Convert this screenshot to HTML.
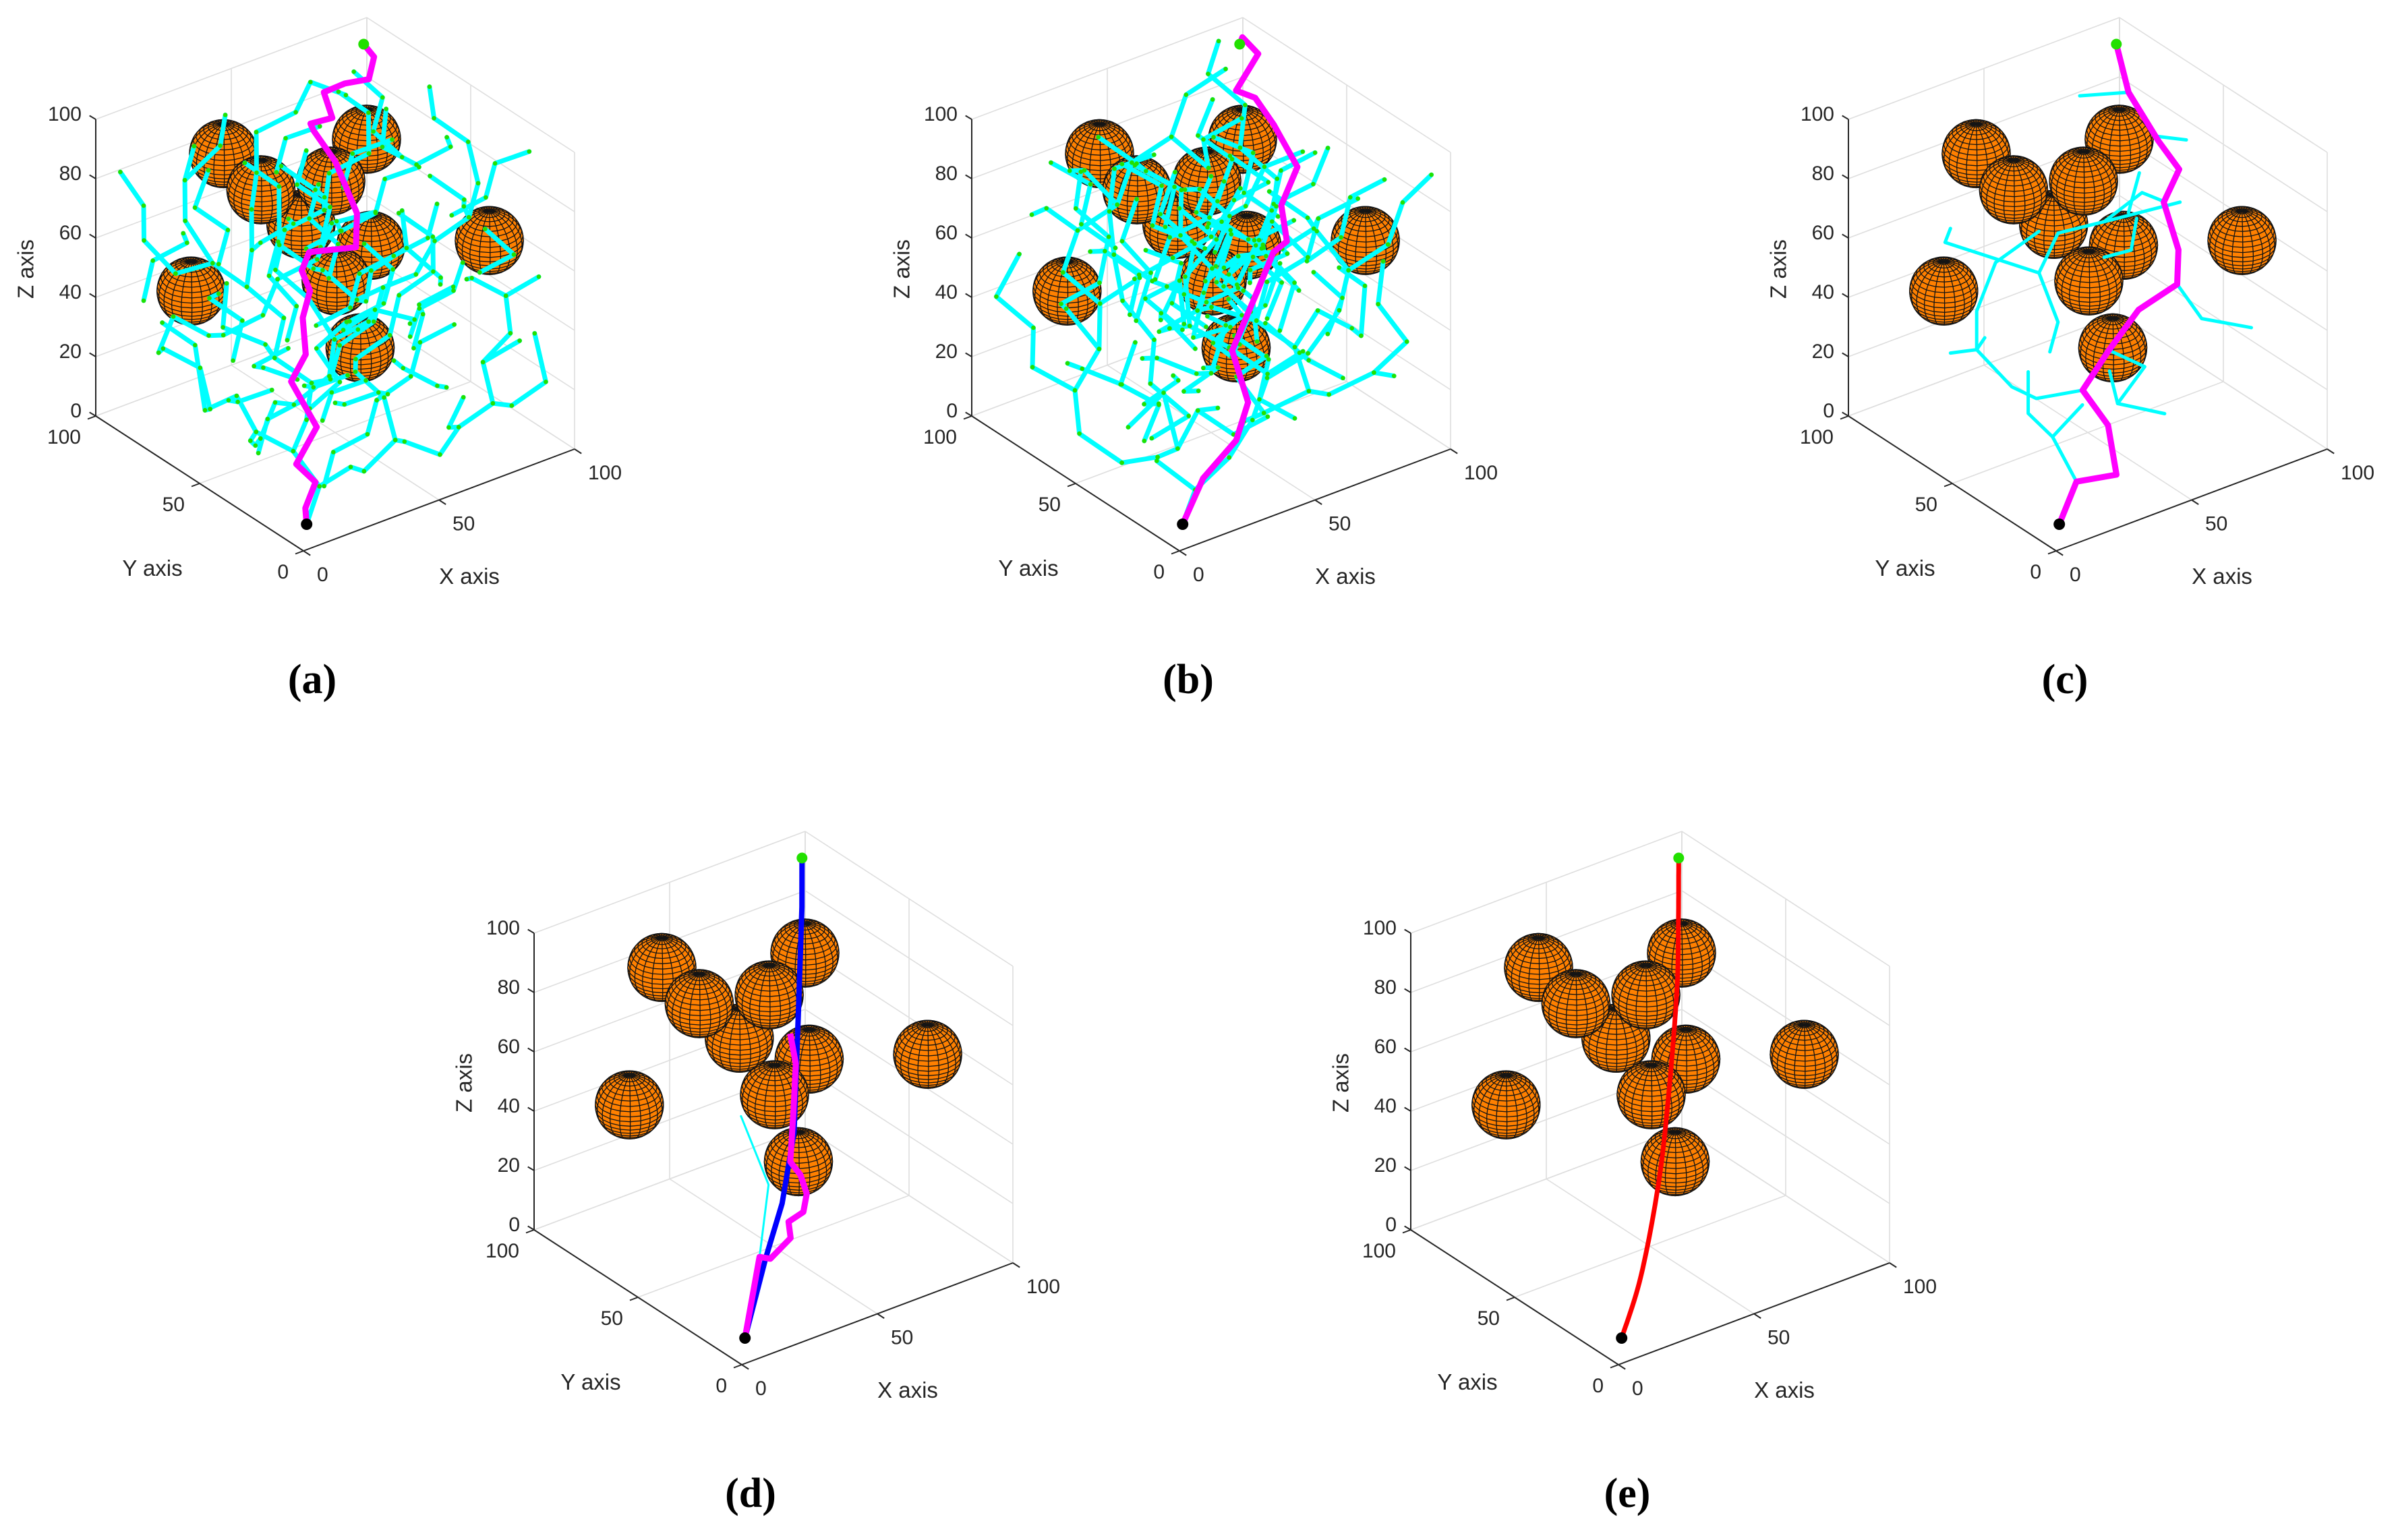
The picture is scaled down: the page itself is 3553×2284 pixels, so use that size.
<!DOCTYPE html>
<html>
<head>
<meta charset="utf-8">
<style>
html,body{margin:0;padding:0;background:#fff;}
svg{display:block;}
text{font-family:"Liberation Sans",Arial,sans-serif;}
</style>
</head>
<body>
<svg id="fig" xmlns="http://www.w3.org/2000/svg" width="3553" height="2284" viewBox="0 0 3553 2284">
<rect x="0" y="0" width="3553" height="2284" fill="#ffffff"/>
</svg>
<script>
// ---------- data ----------
const sphereX = [41, 41, 55, 53, 70, 67, 90, 16, 45, 50];
const sphereY = [92, 74, 73, 56, 61, 55, 28, 75, 43, 38];
const sphereZ = [78, 74, 58, 81, 87, 55, 61, 48, 56, 34];
const sphereR = 10;
const xTicks = [0, 50, 100];
const yTicks = [0, 50, 100];
const zTicks = [0, 20, 40, 60, 80, 100];
const startPt = [5, 5, 5];
const goalPt = [95, 95, 95];
const panelLabels = ['(a)', '(b)', '(c)', '(d)', '(e)'];

const treeA = [
 [[5,5,5],[12,8,14],[10,18,22],[18,22,28]],
 [[12,8,14],[22,6,18],[30,10,12]],
 [[10,18,22],[4,28,26],[8,36,18]],
 [[30,10,12],[40,8,20],[48,14,14],[58,10,8]],
 [[40,8,20],[42,16,30],[36,22,38]],
 [[58,10,8],[68,14,12],[76,8,20],[86,12,14]],
 [[76,8,20],[80,18,28],[92,16,32]],
 [[68,14,12],[72,24,6],[82,30,10]],
 [[86,12,14],[94,6,22],[96,14,34]],
 [[80,18,28],[84,10,40],[90,20,46],[96,12,54]],
 [[18,22,28],[26,30,34],[20,40,40],[28,46,48]],
 [[26,30,34],[36,34,30],[44,40,36]],
 [[4,28,26],[6,40,32],[2,50,24],[10,58,18]],
 [[8,36,18],[16,44,10],[24,52,6]],
 [[24,52,6],[34,58,12],[44,62,6],[54,58,14]],
 [[54,58,14],[62,66,20],[70,60,26]],
 [[44,40,36],[52,34,44],[60,40,50],[66,32,56]],
 [[66,32,56],[76,36,62],[84,30,70],[92,36,76]],
 [[60,40,50],[58,50,42],[66,56,36],[74,64,40]],
 [[74,64,40],[84,60,46],[90,70,52]],
 [[70,60,26],[80,70,22],[90,64,18],[96,74,10]],
 [[28,46,48],[22,56,56],[14,62,64],[8,72,58]],
 [[22,56,56],[30,64,62],[36,72,70]],
 [[8,72,58],[4,82,66],[10,90,72],[6,96,82]],
 [[36,72,70],[44,80,76],[50,88,84]],
 [[14,62,64],[10,70,76],[16,78,84],[24,84,90]],
 [[10,58,18],[14,68,26],[8,78,30],[14,88,22]],
 [[14,88,22],[24,94,28],[34,90,20],[44,96,14]],
 [[44,96,14],[54,90,20],[64,96,26]],
 [[64,96,26],[74,90,32],[84,96,38],[94,88,42]],
 [[62,66,20],[60,76,30],[54,84,38],[62,90,46]],
 [[62,90,46],[72,84,52],[80,92,58],[90,86,64]],
 [[90,86,64],[96,94,72],[88,98,80]],
 [[50,88,84],[60,82,90],[70,88,94],[80,84,88]],
 [[92,36,76],[96,46,84],[88,52,92],[94,62,96]],
 [[84,30,70],[76,22,80],[70,14,88],[62,20,96]],
 [[90,20,46],[82,26,52],[74,18,58]],
 [[20,40,40],[12,34,50],[4,44,54],[10,50,64]],
 [[36,22,38],[30,14,48],[38,8,56],[46,14,64]],
 [[46,14,64],[54,8,72],[60,16,78],[52,22,86]],
 [[2,50,24],[6,60,40],[0,68,46]],
 [[84,60,46],[92,54,36],[98,62,28]],
 [[80,70,22],[76,80,12],[86,86,6]],
 [[16,78,84],[26,74,94],[34,82,98]],
 [[58,50,42],[50,56,52],[42,50,58],[34,56,66]],
 [[34,56,66],[40,64,80],[32,70,88]],
 [[72,84,52],[66,76,62],[58,70,70],[50,76,78]],
 [[30,64,62],[24,52,72],[30,44,80],[22,36,88]],
 [[50,30,20],[58,24,28],[66,30,34],[74,24,40]],
 [[50,30,20],[42,24,14],[34,30,8],[26,24,2]],
 [[30,30,20],[38,36,24],[46,30,28]],
 [[20,20,60],[28,14,66],[36,20,72],[44,14,78]],
 [[44,14,78],[52,8,84],[60,14,90]],
 [[10,10,40],[18,6,48],[14,12,58],[22,8,66]],
 [[60,70,50],[68,76,58],[62,84,64],[70,90,70]],
 [[40,60,30],[48,66,36],[44,74,44],[52,80,50]],
 [[80,50,80],[88,44,86],[82,38,94]],
 [[80,50,80],[72,56,86],[78,62,94]],
 [[30,80,50],[38,86,56],[32,94,62],[40,98,70]],
 [[70,40,30],[78,46,34],[86,40,40],[94,46,44]],
 [[20,60,30],[28,66,38],[22,74,44],[30,80,40]],
 [[56,20,40],[64,26,46],[58,20,54],[66,14,60]],
 [[40,40,60],[48,46,66],[42,52,74],[50,58,80]],
 [[90,70,70],[84,76,78],[92,82,84],[86,88,92]],
 [[10,90,40],[18,96,48],[26,90,54],[20,84,62]],
 [[50,50,10],[58,56,4],[66,50,8],[74,56,2]],
 [[34,44,24],[42,50,18],[50,44,22]],
 [[70,20,80],[78,14,86],[86,20,92],[94,14,96]],
 [[24,30,80],[32,24,86],[26,18,94]],
 [[60,60,60],[68,54,66],[76,60,72],[84,54,76]],
 [[48,70,20],[40,76,14],[48,82,8],[56,76,4]],
 [[88,30,50],[96,24,56],[90,30,64]],
 [[14,40,10],[22,46,16],[30,40,22]],
 [[36,60,88],[44,66,94],[52,60,98]],
 [[64,40,24],[72,46,16],[80,40,10],[88,46,4]],
 [[40,30,50],[48,24,56],[56,30,62],[50,36,70]],
 [[26,70,10],[34,76,4],[42,70,8]],
 [[76,80,60],[84,86,66],[94,80,70]]
];

const treeB = [
 [[5,5,5],[15,12,10],[26,10,18],[36,16,24]],
 [[15,12,10],[10,24,16],[18,34,10],[14,46,4]],
 [[26,10,18],[30,4,32],[40,10,40],[52,6,46]],
 [[36,16,24],[48,22,20],[60,16,26],[72,22,18]],
 [[72,22,18],[84,16,24],[96,22,16]],
 [[60,16,26],[64,28,34],[56,36,42],[66,44,48]],
 [[66,44,48],[78,40,54],[88,48,60],[98,42,66]],
 [[56,36,42],[44,42,48],[36,34,56],[26,40,62]],
 [[26,40,62],[16,34,70],[8,42,78],[14,52,86]],
 [[44,42,48],[48,54,40],[40,62,32],[50,70,26]],
 [[50,70,26],[62,76,20],[72,70,12],[82,78,6]],
 [[18,34,10],[30,40,6],[42,46,12],[54,52,6]],
 [[14,46,4],[6,56,12],[12,66,20],[4,76,26]],
 [[4,76,26],[12,86,32],[6,96,40],[16,98,50]],
 [[12,66,20],[24,70,28],[32,80,36],[26,90,44]],
 [[26,90,44],[36,96,52],[46,90,60],[56,96,68]],
 [[56,96,68],[66,90,76],[76,96,84],[86,90,92]],
 [[52,6,46],[62,4,58],[70,10,66],[80,4,74]],
 [[80,4,74],[90,10,82],[96,4,92]],
 [[70,10,66],[66,20,76],[58,14,86],[50,22,94]],
 [[88,48,60],[94,58,50],[90,68,40],[98,76,32]],
 [[98,76,32],[92,86,24],[98,94,14]],
 [[78,40,54],[74,52,62],[82,60,70],[76,70,78]],
 [[76,70,78],[84,78,86],[78,88,94],[88,96,98]],
 [[36,34,56],[40,24,64],[32,18,74],[40,12,84]],
 [[40,12,84],[30,6,92],[20,12,98]],
 [[14,52,86],[22,60,94],[32,54,98]],
 [[8,42,78],[2,30,70],[6,20,60],[0,14,50]],
 [[0,14,50],[8,6,40],[2,16,30]],
 [[48,54,40],[58,60,48],[54,70,56],[62,80,64]],
 [[62,80,64],[52,84,72],[44,78,80],[36,86,88]],
 [[58,60,48],[68,58,38],[76,64,30],[70,54,22]],
 [[32,80,36],[42,74,44],[34,66,50],[42,58,58]],
 [[42,58,58],[50,50,66],[44,44,74],[52,36,82]],
 [[52,36,82],[62,40,90],[70,32,96]],
 [[64,28,34],[74,30,42],[82,24,36],[90,30,28]],
 [[90,30,28],[96,36,40],[88,38,48]],
 [[30,40,6],[34,52,18],[24,56,8]],
 [[42,46,12],[46,34,8],[54,28,14]],
 [[24,70,28],[18,78,40],[10,70,48],[18,62,56]],
 [[18,62,56],[26,68,66],[20,76,74],[28,84,80]],
 [[66,90,76],[72,80,68],[64,72,84],[72,64,92]],
 [[84,16,24],[90,8,36],[84,14,48],[92,22,56]],
 [[46,90,60],[40,98,70],[30,92,76]],
 [[50,50,66],[60,52,74],[68,46,80],[60,54,88]],
 [[36,96,52],[26,98,62],[16,92,66]],
 [[62,76,20],[68,86,30],[78,84,40],[72,94,48]],
 [[48,22,20],[44,30,30],[52,26,36]],
 [[72,70,12],[80,62,4],[90,58,10]],
 [[44,44,44],[54,46,36],[48,56,30],[58,64,38]],
 [[56,36,42],[50,44,52],[60,50,56],[54,58,46]],
 [[40,50,40],[46,60,48],[38,66,42],[44,56,34]],
 [[60,50,56],[66,40,60],[58,34,64],[64,26,54]],
 [[46,60,48],[36,56,40],[30,48,48],[38,42,36]],
 [[50,40,30],[60,44,40],[52,50,50],[62,56,60]],
 [[50,40,30],[40,36,40],[46,30,50],[38,26,60]],
 [[40,50,50],[50,58,60],[42,64,70],[52,70,78]],
 [[60,30,40],[70,36,50],[64,44,60],[74,50,68]],
 [[30,60,40],[40,66,50],[34,72,60],[44,78,68]],
 [[50,50,20],[60,56,30],[70,50,36],[80,56,44]],
 [[50,50,20],[40,44,26],[30,50,32],[20,44,38]],
 [[60,60,70],[70,66,78],[62,72,86],[72,78,92]],
 [[40,40,70],[30,46,78],[38,52,86],[28,58,94]],
 [[70,50,30],[78,44,20],[86,50,12],[94,44,6]],
 [[30,30,30],[20,24,36],[28,18,44],[18,12,50]],
 [[64,66,44],[74,72,50],[66,78,56],[76,84,62]],
 [[44,36,64],[54,30,70],[46,24,78],[56,18,84]],
 [[56,56,56],[66,62,62],[58,66,72],[48,60,78]],
 [[36,50,24],[44,58,16],[36,64,8],[46,70,2]],
 [[60,40,66],[70,46,72],[80,40,78],[90,46,84]],
 [[20,50,50],[28,56,58],[20,62,66],[10,56,72]],
 [[80,60,60],[88,66,68],[96,60,74]],
 [[70,30,60],[78,24,68],[86,30,76],[94,24,82]],
 [[30,70,60],[22,76,68],[30,82,76],[20,88,84]],
 [[54,44,34],[62,38,26],[54,32,18],[64,28,10]],
 [[46,54,64],[36,60,70],[44,66,78],[34,72,86]],
 [[58,48,48],[68,52,56],[60,58,64],[70,62,70]],
 [[42,42,42],[34,48,50],[42,54,58],[32,58,64]],
 [[10,30,20],[20,36,26],[12,44,32],[22,50,40]],
 [[90,70,50],[82,76,58],[90,82,66],[80,88,72]],
 [[60,90,30],[70,96,38],[80,90,44],[90,96,50]],
 [[40,10,60],[50,16,66],[44,22,74]],
 [[20,80,20],[30,86,12],[40,80,6]],
 [[70,20,40],[80,26,46],[74,32,54]]
];

const treeC = [
 [[32,29,30],[31,50,18],[22,50,25],[9,50,42],[7,60,37]],
 [[9,50,42],[12,50,45]],
 [[9,50,42],[9,50,55],[16,50,69],[32,50,74]],
 [[7,60,79],[5,60,75],[32,50,60],[39,50,41],[36,50,32]],
 [[32,50,60],[39,50,71],[56,50,69],[84,50,66]],
 [[56,50,69],[70,50,74],[77,50,69]],
 [[65,50,69],[69,50,81]],
 [[68,50,66],[66,50,56],[56,50,57]],
 [[73,37,48],[92,50,24],[95,30,29]],
 [[88,80,88],[70,80,93]],
 [[83,60,84],[94,60,79]],
 [[44,32,38],[71,50,15],[61,50,6],[63,30,11]],
 [[58,50,18],[61,50,6]],
 [[19,15,10],[37,50,3],[28,50,14],[28,50,28]],
 [[37,50,3],[48,50,10]]
];
const treeD = [[[28,28,14],[39,38,30],[38,50,48]]];

const pathA = [[5,5,5],[3,3,12],[19,19,8],[5,10,23],[21,21,25],[10,19,45],[20,25,48],[25,33,55],[30,36,61],[30,40,66],[32,39,72],[50,40,67],[55,46,74],[60,63,82],[65,80,83],[70,88,80],[75,84,82],[78,92,86],[85,91,87],[90,86,89],[95,90,93],[95,95,95]];
const pathB = [[5,5,5],[21,16,10],[37,21,15],[46,27,22],[47,36,35],[63,45,45],[76,54,50],[81,54,52],[82,58,62],[91,62,70],[90,72,80],[90,81,85],[86,85,87],[98,90,93],[96,95,97],[95,95,95]];
const pathC = [[5,5,5],[19,15,10],[33,14,8],[36,22,20],[32,29,30],[44,32,38],[58,36,45],[73,37,48],[75,39,58],[78,50,68],[86,53,75],[86,63,80],[88,80,88],[95,95,95]];
const pathDMagenta = [[5,5,5],[28,28,14],[32,28,12],[41,30,15],[41,31,20],[48,33,20],[50,34,25],[50,37,30],[47,38,35],[52,43,48],[59,51,58],[60,55,66]];
const pathDBlue = [[5,5,5],[31,29,12],[44,38,22],[53,44,40],[53,42,80],[72,65,100],[95,95,95]];
const pathERed = [[5,5,5],[16,10,20],[28,17,45],[38,25,70],[53,41,90],[65,56,100],[95,95,95]];

// ---------- rendering ----------
const SVGNS = 'http://www.w3.org/2000/svg';
const svg = document.getElementById('fig');
function mk(parent, tag, attrs) {
  const e = document.createElementNS(SVGNS, tag);
  for (const k in attrs) e.setAttribute(k, attrs[k]);
  parent.appendChild(e);
  return e;
}
function makeProj(o) {
  return p => [o[0] + 4.02 * p[0] - 3.08 * p[1], o[1] - 1.51 * p[0] - 2.00 * p[1] - 4.40 * p[2]];
}
const VIEW = [-13.55, -17.69, 12.69];
function depth(p) { return VIEW[0] * p[0] + VIEW[1] * p[1] + VIEW[2] * p[2]; }
function f(n) { return n.toFixed(1); }

function drawAxes(g, P, key) {
  const grid = mk(g, 'g', {stroke: '#dedede', 'stroke-width': 1.6, fill: 'none'});
  
  
  const segs = [];
  xTicks.forEach(x => { segs.push([[x,0,0],[x,100,0]]); segs.push([[x,100,0],[x,100,100]]); });
  yTicks.forEach(y => { segs.push([[0,y,0],[100,y,0]]); segs.push([[100,y,0],[100,y,100]]); });
  zTicks.forEach(z => { segs.push([[0,100,z],[100,100,z]]); segs.push([[100,0,z],[100,100,z]]); });
  segs.forEach(s => {
    const a = P(s[0]), b = P(s[1]);
    const l = mk(grid, 'line', {x1: f(a[0]), y1: f(a[1]), x2: f(b[0]), y2: f(b[1])});
    
    
  });
  const ax = mk(g, 'g', {stroke: '#262626', 'stroke-width': 2, fill: 'none'});
  
  
  const axes = [['x-axis-line', [0,0,0], [100,0,0]], ['y-axis-line', [0,0,0], [0,100,0]], ['z-axis-line', [0,100,0], [0,100,100]]];
  axes.forEach(d => {
    const a = P(d[1]), b = P(d[2]);
    const l = mk(ax, 'line', {x1: f(a[0]), y1: f(a[1]), x2: f(b[0]), y2: f(b[1])});
    
    
  });
  const labels = mk(g, 'g', {fill: '#262626', 'font-size': 30});
  
  
  xTicks.forEach(x => {
    const a = P([x,0,0]);
    const t = mk(ax, 'line', {x1: f(a[0]), y1: f(a[1]), x2: f(a[0] + 10.2), y2: f(a[1] + 6.6)});
    
    
    const tx = mk(labels, 'text', {x: f(a[0] + 20), y: f(a[1] + 45), 'text-anchor': 'start'});
    tx.textContent = String(x);
    
    
  });
  yTicks.forEach(y => {
    const a = P([0,y,0]);
    const t = mk(ax, 'line', {x1: f(a[0]), y1: f(a[1]), x2: f(a[0] - 12), y2: f(a[1] + 4.5)});
    
    
    const tx = mk(labels, 'text', {x: f(a[0] - 22), y: f(a[1] + 41), 'text-anchor': 'end'});
    tx.textContent = String(y);
    
    
  });
  zTicks.forEach(z => {
    const a = P([0,100,z]);
    const t = mk(ax, 'line', {x1: f(a[0]), y1: f(a[1]), x2: f(a[0] - 9.3), y2: f(a[1] - 5.5)});
    
    
    const tx = mk(labels, 'text', {x: f(a[0] - 21), y: f(a[1] + 2), 'text-anchor': 'end'});
    tx.textContent = String(z);
    
    
  });
  const o = P([0,0,0]);
  const zt = mk(g, 'text', {x: 0, y: 0, dy: '0.35em', 'text-anchor': 'middle', 'font-size': 33, fill: '#262626',
    transform: 'translate(' + f(o[0] - 412) + ',' + f(o[1] - 418) + ') rotate(-90)'});
  zt.textContent = 'Z axis';
  
  
  const yt = mk(g, 'text', {x: f(o[0] - 224), y: f(o[1] + 37), 'text-anchor': 'middle', 'font-size': 33, fill: '#262626'});
  yt.textContent = 'Y axis';
  
  
  const xt = mk(g, 'text', {x: f(o[0] + 246), y: f(o[1] + 49), 'text-anchor': 'middle', 'font-size': 33, fill: '#262626'});
  xt.textContent = 'X axis';
  
  
}

function drawSpheres(g, P) {
  const idx = sphereX.map((_, i) => i);
  idx.sort((a, b) => depth([sphereX[a], sphereY[a], sphereZ[a]]) - depth([sphereX[b], sphereY[b], sphereZ[b]]));
  const N = 20;
  idx.forEach(i => {
    const c = [sphereX[i], sphereY[i], sphereZ[i]];
    const sg = mk(g, 'g', {});
    
    
    const cc = P(c);
    mk(sg, 'circle', {cx: f(cc[0]), cy: f(cc[1]), r: f(sphereR * 5.06), fill: '#ff8000', stroke: '#111', 'stroke-width': 1.2});
    let d = '';
    const pt = (phi, th) => [c[0] + sphereR * Math.cos(phi) * Math.cos(th), c[1] + sphereR * Math.cos(phi) * Math.sin(th), c[2] + sphereR * Math.sin(phi)];
    for (let a = 0; a < N; a++) {
      const p0 = -Math.PI / 2 + a * Math.PI / N, p1 = p0 + Math.PI / N;
      for (let b = 0; b < N; b++) {
        const t0 = -Math.PI + b * 2 * Math.PI / N, t1 = t0 + 2 * Math.PI / N;
        const pm = (p0 + p1) / 2, tm = (t0 + t1) / 2;
        const n = [Math.cos(pm) * Math.cos(tm), Math.cos(pm) * Math.sin(tm), Math.sin(pm)];
        if (n[0] * VIEW[0] + n[1] * VIEW[1] + n[2] * VIEW[2] <= 0) continue;
        const q = [pt(p0, t0), pt(p0, t1), pt(p1, t1), pt(p1, t0)].map(P);
        d += 'M' + q.map(s => f(s[0]) + ' ' + f(s[1])).join('L') + 'Z';
      }
    }
    const mesh = mk(sg, 'path', {d: d, fill: '#ff8000', stroke: '#141414', 'stroke-width': 1.3, 'stroke-linejoin': 'round'});
    
    
  });
}

function polyStr(P, pts) { return pts.map(p => { const s = P(p); return f(s[0]) + ',' + f(s[1]); }).join(' '); }

function drawTree(g, P, tree, width, dotColor, key) {
  const tg = mk(g, 'g', {});
  
  
  tree.forEach(br => {
    const l = mk(tg, 'polyline', {points: polyStr(P, br), fill: 'none', stroke: '#00ffff', 'stroke-width': width, 'stroke-linejoin': 'round', 'stroke-linecap': 'round'});
    
    
  });
  if (dotColor) {
    tree.forEach(br => br.forEach(p => {
      const s = P(p);
      const c = mk(tg, 'circle', {cx: f(s[0]), cy: f(s[1]), r: 3.3, fill: dotColor});
      
      
    }));
  }
}

function drawPath(g, P, pts, color, width, name) {
  const l = mk(g, 'polyline', {points: polyStr(P, pts), fill: 'none', stroke: color, 'stroke-width': width, 'stroke-linejoin': 'round', 'stroke-linecap': 'butt'});
  
  
}

function smooth(pts) {
  const out = [];
  for (let i = 0; i < pts.length - 1; i++) {
    const p0 = pts[Math.max(0, i - 1)], p1 = pts[i], p2 = pts[i + 1], p3 = pts[Math.min(pts.length - 1, i + 2)];
    for (let s = 0; s < 12; s++) {
      const t = s / 12, t2 = t * t, t3 = t2 * t;
      out.push([0, 1, 2].map(k => 0.5 * ((2 * p1[k]) + (-p0[k] + p2[k]) * t + (2 * p0[k] - 5 * p1[k] + 4 * p2[k] - p3[k]) * t2 + (-p0[k] + 3 * p1[k] - 3 * p2[k] + p3[k]) * t3)));
    }
  }
  out.push(pts[pts.length - 1]);
  return out;
}

const panels = [
  {key: 'a', o: [450, 817], tree: treeA, tw: 7, dot: '#22e000'},
  {key: 'b', o: [1749, 817], tree: treeB, tw: 7, dot: '#22e000'},
  {key: 'c', o: [3049, 817], tree: treeC, tw: 5, dot: null},
  {key: 'd', o: [1100, 2024], tree: treeD, tw: 3, dot: null},
  {key: 'e', o: [2400, 2024], tree: [], tw: 0, dot: null}
];

panels.forEach((pn, k) => {
  const P = makeProj(pn.o);
  const g = mk(svg, 'g', {});
  
  
  drawAxes(g, P, pn.key);
  drawSpheres(g, P);
  if (pn.tree.length) drawTree(g, P, pn.tree, pn.tw, pn.dot, pn.key);
  if (pn.key === 'a') drawPath(g, P, pathA, '#ff00ff', 9, 'planned-path');
  if (pn.key === 'b') drawPath(g, P, pathB, '#ff00ff', 9, 'planned-path');
  if (pn.key === 'c') drawPath(g, P, pathC, '#ff00ff', 9, 'planned-path');
  if (pn.key === 'd') {
    drawPath(g, P, pathDBlue, '#0000ff', 8, 'optimized-path');
    drawPath(g, P, pathDMagenta, '#ff00ff', 9, 'planned-path');
  }
  if (pn.key === 'e') drawPath(g, P, smooth(pathERed), '#ff0000', 7, 'smoothed-path');
  const s = P(startPt), e = P(goalPt);
  const sd = mk(g, 'circle', {cx: f(s[0]), cy: f(s[1]), r: 8.5, fill: '#000'});
  
  
  const gd = mk(g, 'circle', {cx: f(e[0]), cy: f(e[1]), r: 8, fill: '#22e000'});
  
  
  const cap = mk(g, 'text', {x: pn.o[0] + 13, y: pn.o[1] + 211, 'text-anchor': 'middle', 'font-size': 62, 'font-weight': 'bold', fill: '#000', style: 'font-family:"Liberation Serif",serif'});
  cap.textContent = panelLabels[k];
  
  
});
</script>
</body>
</html>
